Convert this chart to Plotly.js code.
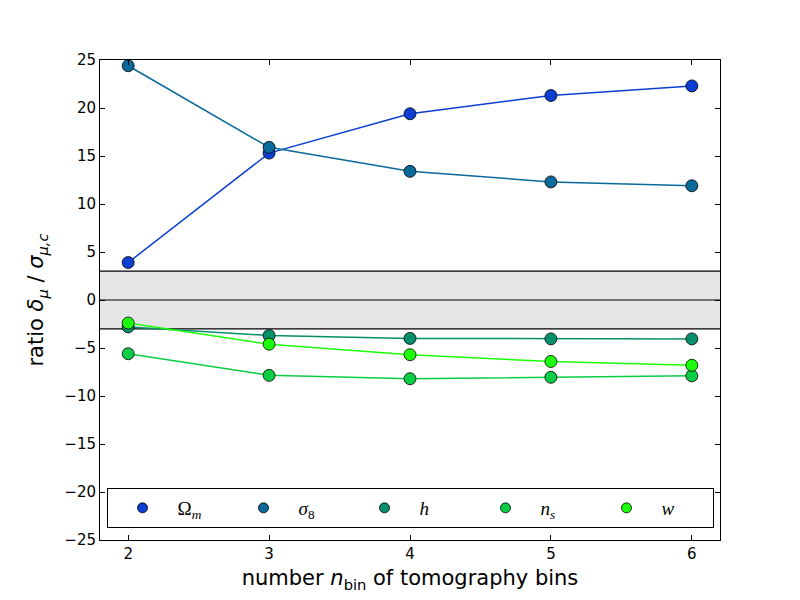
<!DOCTYPE html>
<html><head><meta charset="utf-8">
<script src="https://cdn.plot.ly/plotly-3.0.1.min.js"></script>
<style>body{margin:0;background:#fff}#c{width:800px;height:600px}</style>
</head><body><div id="c"></div>
<script>
const nbin = [2, 3, 4, 5, 6];
const omegaM = [3.9, 15.3, 19.4, 21.3, 22.3];
const sigma8 = [24.4, 15.9, 13.4, 12.3, 11.9];
const hVals = [-2.8, -3.7, -4.0, -4.05, -4.05];
const nsVals = [-5.6, -7.85, -8.2, -8.05, -7.9];
const wVals = [-2.4, -4.6, -5.7, -6.4, -6.8];
const names = ["Ω<sub><i>m</i></sub>", "<i>σ</i><sub>8</sub>", "<i>h</i>", "<i>n</i><sub><i>s</i></sub>", "<i>w</i>"];
const colors = ["#0c3ed3", "#096a9a", "#068f6b", "#0acc45", "#1cff0a"];
const band = 3;
const yTicks = [-25, -20, -15, -10, -5, 0, 5, 10, 15, 20, 25];

const series = [omegaM, sigma8, hVals, nsVals, wVals];
const traces = series.map((s, i) => ({
  x: nbin, y: s, name: names[i], type: "scatter", mode: "lines+markers", showlegend: false,
  line: {color: colors[i], width: 1.5},
  marker: {color: colors[i], size: 12, line: {color: "#000", width: 0.8}}
}));
const legendTraces = names.map((n, i) => ({
  x: [null], y: [null], name: n, type: "scatter", mode: "markers", showlegend: true,
  marker: {color: colors[i], size: 10, line: {color: "#000", width: 0.8}}
}));

const layout = {
  width: 800, height: 600,
  paper_bgcolor: "#fff", plot_bgcolor: "#fff",
  margin: {l: 100, r: 80, t: 60, b: 60},
  showlegend: true,
  font: {family: "DejaVu Sans", size: 15, color: "#000"},
  xaxis: {
    range: [1.8, 6.2], tickvals: nbin, ticks: "inside", ticklen: 5, tickcolor: "#000",
    showline: true, linecolor: "#000", linewidth: 1, mirror: "ticks", showgrid: false, zeroline: false,
    tickfont: {size: 15},
    title: {text: "number <i>n</i><sub>bin</sub> of tomography bins", font: {size: 21}, standoff: 8}
  },
  yaxis: {
    range: [-25, 25], tickvals: yTicks, ticktext: yTicks.map(v => v < 0 ? "\u2212" + (-v) : String(v)),
    ticks: "inside", ticklen: 5, tickcolor: "#000",
    showline: true, linecolor: "#000", linewidth: 1, mirror: "ticks", showgrid: false, zeroline: false,
    tickfont: {size: 15},
    title: {text: "ratio <i>δ</i><sub><i>μ</i></sub> / <i>σ</i><sub><i>μ,c</i></sub>", font: {size: 21}, standoff: 14}
  },
  shapes: [
    {type: "rect", xref: "paper", x0: 0, x1: 1, yref: "y", y0: -band, y1: band, fillcolor: "#e5e5e5", line: {width: 0}, layer: "below"},
    {type: "line", xref: "paper", x0: 0, x1: 1, yref: "y", y0: band, y1: band, line: {color: "#000", width: 1.2}, layer: "below"},
    {type: "line", xref: "paper", x0: 0, x1: 1, yref: "y", y0: 0, y1: 0, line: {color: "#000", width: 1.2}, layer: "below"},
    {type: "line", xref: "paper", x0: 0, x1: 1, yref: "y", y0: -band, y1: -band, line: {color: "#000", width: 1.2}, layer: "below"}
  ],
  legend: {
    orientation: "h", x: 0.5, xanchor: "center", y: 0.025, yanchor: "bottom",
    bgcolor: "#fff", bordercolor: "#000", borderwidth: 1,
    font: {family: "Liberation Serif", size: 19},
    entrywidth: 46, entrywidthmode: "pixels", itemwidth: 60
  }
};

Plotly.newPlot("c", traces.concat(legendTraces), layout, {displayModeBar: false, staticPlot: true});
</script></body></html>
